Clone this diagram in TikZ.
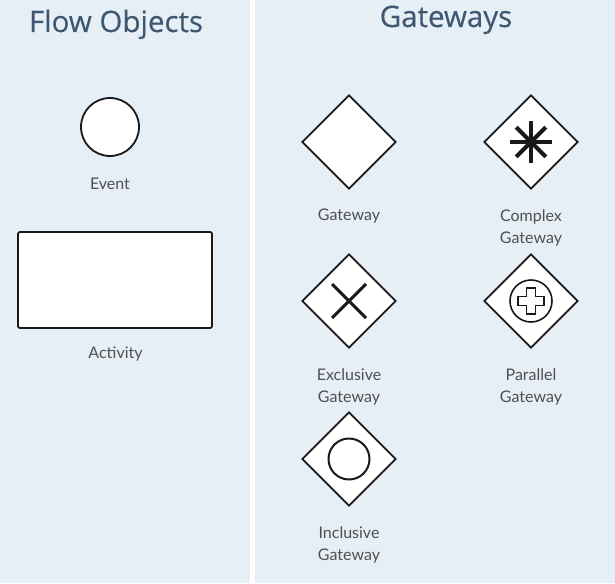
\documentclass[tikz,border=0pt]{standalone}
\usepackage{fontspec}
\setmainfont{Lato}
\newfontfamily\headfont[FakeBold=0.3]{Open Sans}
\usetikzlibrary{shapes.geometric,calc}
\definecolor{panelbg}{HTML}{E6EEF6}
\definecolor{headblue}{HTML}{3D5870}
\definecolor{lblgray}{HTML}{505050}

\begin{document}
\begin{tikzpicture}[x=1pt,y=-1pt,
    heading/.style={font=\headfont\fontsize{29.5}{34}\selectfont,text=headblue,anchor=base,inner sep=0pt},
    lbl/.style={font=\fontsize{16}{22}\selectfont,text=lblgray,align=center,anchor=base,inner sep=0pt},
    outline/.style={draw=black!90,line width=1.8pt,fill=white},
    gate/.style={outline,diamond,minimum width=94pt,minimum height=94pt,inner sep=0pt},
    glyph/.style={draw=black!90,line cap=butt}]
    % Background
    \fill[white] (0,0) rectangle (615,583);
    \fill[panelbg] (0,0) rectangle (250,583);
    \fill[panelbg] (255,0) rectangle (615,583);
    % Headings
    \node[heading] (hflow) at (116,32) {Flow Objects};
    \node[heading] (hgate) at (446,27) {Gateways};
    % Flow objects
    \node[outline,circle,minimum size=58pt,inner sep=0pt] (event) at (110,127) {};
    \node[lbl] (eventlbl) at (110,189) {Event};
    \node[outline,rectangle,rounded corners=2pt,minimum width=194pt,minimum height=96pt] (activity) at (115,280) {};
    \node[lbl] (activitylbl) at (115.5,358) {Activity};
    % Gateways (labels sit on the baseline of their last line)
    \node[gate] (gw) at (349,142) {};
    \node[lbl] (gwlbl) at (349,220) {Gateway};
    \node[gate] (cgw) at (531,142) {};
    \node[lbl] (cgwlbl) at (531,243) {Complex\\Gateway};
    \node[gate] (xgw) at (349,301) {};
    \node[lbl] (xgwlbl) at (349,402) {Exclusive\\Gateway};
    \node[gate] (pgw) at (531,301) {};
    \node[lbl] (pgwlbl) at (531,402) {Parallel\\Gateway};
    \node[gate] (igw) at (349,459) {};
    \node[lbl] (igwlbl) at (349,560) {Inclusive\\Gateway};
    % Complex marker
    \foreach \a in {0,45,90,135}
        \draw[glyph,line width=4pt] ($(cgw)+(\a:21)$) -- ($(cgw)+(\a+180:21)$);
    % Exclusive marker
    \draw[glyph,line width=3pt] ($(xgw)+(-17,-17)$) -- ($(xgw)+(17,17)$);
    \draw[glyph,line width=3pt] ($(xgw)+(-17,17)$) -- ($(xgw)+(17,-17)$);
    % Parallel marker
    \draw[glyph,line width=1.6pt] (pgw) circle (21);
    \draw[glyph,line width=1.2pt,line join=miter] ($(pgw)+(-4.5,-13)$) -- ($(pgw)+(4.5,-13)$)
        -- ($(pgw)+(4.5,-4.5)$) -- ($(pgw)+(13,-4.5)$) -- ($(pgw)+(13,4.5)$)
        -- ($(pgw)+(4.5,4.5)$) -- ($(pgw)+(4.5,13)$) -- ($(pgw)+(-4.5,13)$)
        -- ($(pgw)+(-4.5,4.5)$) -- ($(pgw)+(-13,4.5)$) -- ($(pgw)+(-13,-4.5)$)
        -- ($(pgw)+(-4.5,-4.5)$) -- cycle;
    % Inclusive marker
    \draw[glyph,line width=2pt] (igw) circle (20.5);
\end{tikzpicture}
\end{document}
